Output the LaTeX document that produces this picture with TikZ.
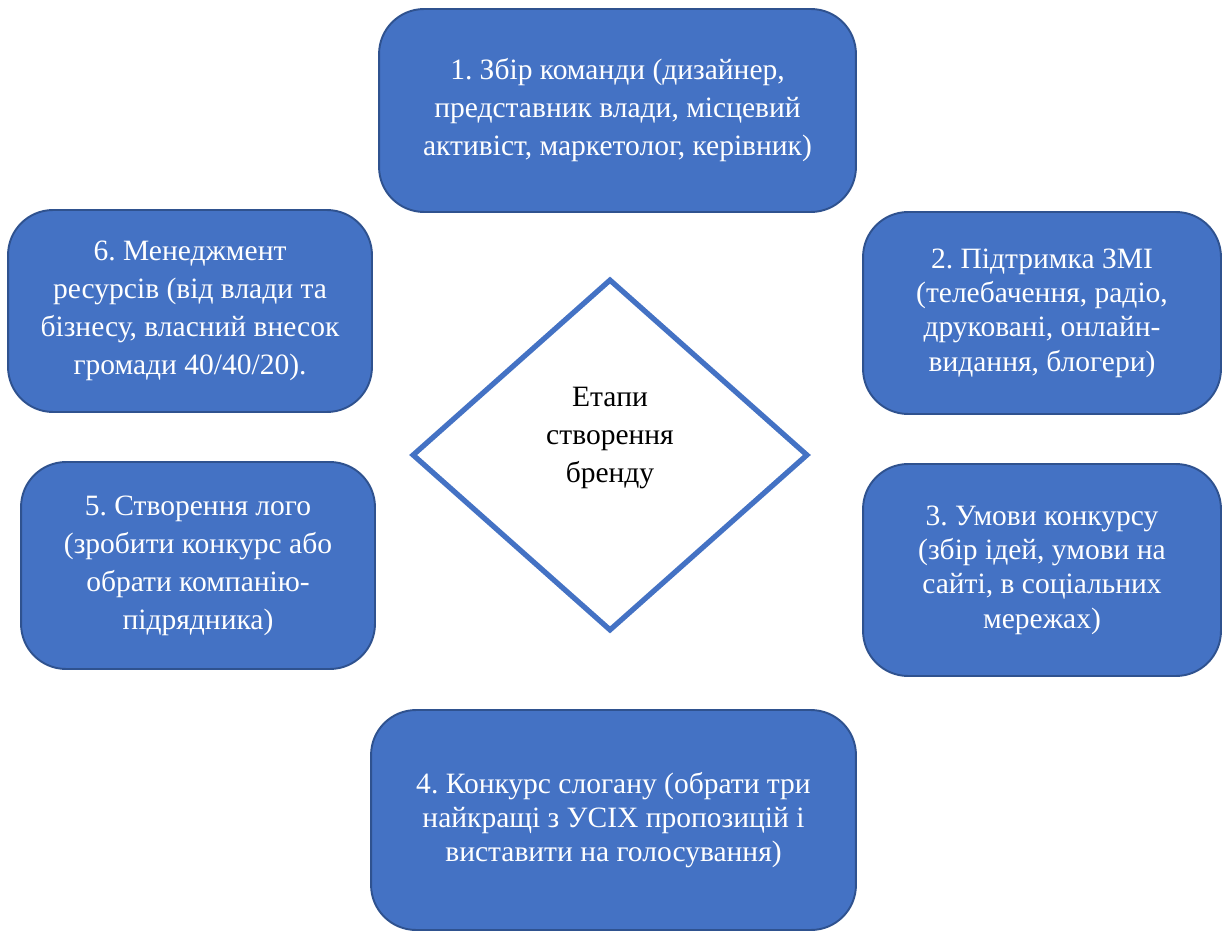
\documentclass[tikz,border=0pt]{standalone}
\usepackage{fontspec}
\setmainfont{Liberation Serif}
\frenchspacing
\usetikzlibrary{shapes.geometric}
\definecolor{stageblue}{HTML}{4472C4}
\definecolor{stageedge}{HTML}{2F528F}

\begin{document}
\begin{tikzpicture}[x=0.02cm, y=-0.02cm,
    stage/.style={rectangle, rounded corners=0.9cm, draw=stageedge, line width=1.1pt,
        fill=stageblue, text=white, align=center, inner sep=0pt,
        font=\fontsize{16.8}{21.6}\selectfont},
    tight/.style={font=\fontsize{16.8}{19.5}\selectfont},
    hub/.style={diamond, draw=stageblue, line width=3pt, fill=white, inner sep=0pt,
        minimum width=7.92cm, minimum height=7.04cm}]
    \useasboundingbox (0,0) rectangle (1223,932);

    % Central diamond
    \node[hub] (hub) at (610,455) {};
    \node[align=center, font=\fontsize{16.8}{21.6}\selectfont] (hubtext) at (610,438)
        {Етапи\\створення\\бренду};

    % Stages, clockwise from the top
    \node[stage, minimum width=9.54cm, minimum height=4.06cm] (s1) at (617.5,110.5)
        {1. Збір команди (дизайнер,\\представник влади, місцевий\\активіст, маркетолог, керівник)};
    \node[stage, tight, minimum width=7.16cm, minimum height=4.04cm] (s2) at (1042,313)
        {2. Підтримка ЗМІ\\(телебачення, радіо,\\друковані, онлайн-\\видання, блогери)};
    \node[stage, tight, minimum width=7.16cm, minimum height=4.24cm] (s3) at (1042,570)
        {3. Умови конкурсу\\(збір ідей, умови на\\сайті, в соціальних\\мережах)};
    \node[stage, tight, minimum width=9.70cm, minimum height=4.40cm] (s4) at (613.5,820)
        {4. Конкурс слогану (обрати три\\найкращі з УСІХ пропозицій і\\виставити на голосування)};
    \node[stage, minimum width=7.08cm, minimum height=4.14cm] (s5) at (198,565.5)
        {5. Створення лого\\(зробити конкурс або\\обрати компанію-\\підрядника)};
    \node[stage, minimum width=7.28cm, minimum height=4.04cm] (s6) at (190,311)
        {6. Менеджмент\\ресурсів (від влади та\\бізнесу, власний внесок\\громади 40/40/20).};
\end{tikzpicture}
\end{document}
